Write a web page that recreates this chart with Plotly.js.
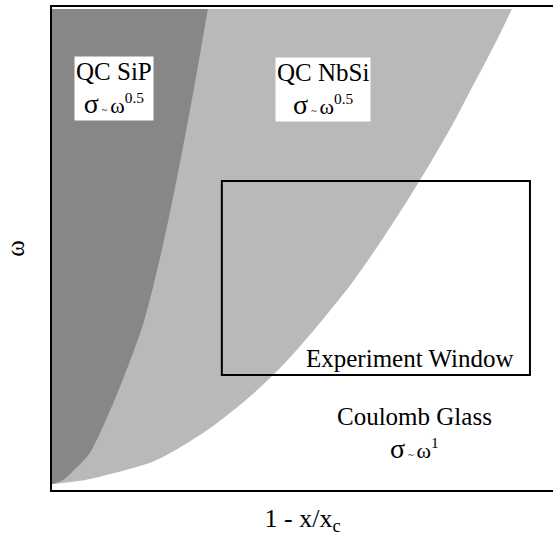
<!DOCTYPE html>
<html>
<head>
<meta charset="utf-8">
<script src="https://cdn.plot.ly/plotly-3.0.1.min.js"></script>
<style>html,body{margin:0;padding:0;background:#fff;}#chart{width:553px;height:536px;}</style>
</head>
<body>
<div id="chart"></div>
<script>
// Boundary of the "QC SiP" (dark) region: 1 - x/xc vs omega
const sipX = [0.2, 2.2, 4.0, 7.4, 10.4, 13.8, 18.2, 22.2, 25.5, 28.5, 31.1];
const sipY = [1.24, 2.07, 3.73, 7.45, 13.66, 21.95, 34.37, 50.93, 67.49, 84.06, 99.59];
// Boundary of the "QC NbSi" (light) region
const nbsiX = [0.2, 6.6, 11.6, 20.0, 26.7, 32.7, 40.1, 46.3, 53.3, 59.7, 65.3, 70.5, 75.4, 80.0, 84.2, 88.4, 91.8];
const nbsiY = [1.24, 2.07, 3.31, 5.80, 9.52, 13.66, 19.88, 26.09, 34.37, 42.65, 50.93, 59.21, 67.49, 75.78, 84.06, 92.34, 99.59];
// Experiment window (x0, x1, y0, y1)
const windowX = [33.9, 95.4];
const windowY = [23.8, 64.0];
// Labels
const labelText = ["QC SiP", "QC NbSi", "Coulomb Glass"];
const labelExp = ["0.5", "0.5", "1"];
const xTitle = "1 - x/x<sub>c</sub>";
const yTitle = "ω";

function region(bx, by, color) {
  return {x: bx, y: by, type: 'scatter', mode: 'lines', fill: 'tozerox',
          fillcolor: color, line: {width: 0, color: color, shape: 'spline', smoothing: 0.8},
          hoverinfo: 'skip', showlegend: false};
}

const font = 'Liberation Serif, Times New Roman, serif';
function sigmaLine(exp) {
  return '<span style="font-size:28px">σ</span><span style="font-size:11px"> ~ </span><span style="font-size:22px">ω<sup>' + exp + '</sup></span>';
}

const data = [region(nbsiX, nbsiY, '#b9b9b9'), region(sipX, sipY, '#878787')];

const layout = {
  width: 553, height: 536,
  margin: {l: 52, r: 0, t: 7, b: 46, pad: 0},
  paper_bgcolor: '#fff', plot_bgcolor: '#fff',
  font: {family: font, color: '#000', size: 25},
  showlegend: false,
  xaxis: {range: [0, 100], showline: true, mirror: true, linewidth: 2, linecolor: '#000',
          showgrid: false, zeroline: false, ticks: '', showticklabels: false, fixedrange: true,
          title: {text: xTitle, font: {family: font, size: 26}, standoff: 21}},
  yaxis: {range: [0, 100], showline: true, mirror: false, linewidth: 2, linecolor: '#000',
          showgrid: false, zeroline: false, ticks: '', showticklabels: false, fixedrange: true,
          title: {text: yTitle, font: {family: font, size: 25}, standoff: 18}},
  shapes: [{type: 'rect', xref: 'x', yref: 'y', x0: windowX[0], x1: windowX[1], y0: windowY[0], y1: windowY[1],
            line: {color: '#000', width: 2}, fillcolor: 'rgba(0,0,0,0)'}],
  annotations: [
    {x: 12.4, y: 83.2, xref: 'x', yref: 'y', showarrow: false, text: labelText[0] + '<br>' + sigmaLine(labelExp[0]),
     bgcolor: '#fff', borderpad: 1, align: 'center', font: {family: font, size: 25}},
    {x: 54.1, y: 83.0, xref: 'x', yref: 'y', showarrow: false, text: labelText[1] + '<br>' + sigmaLine(labelExp[1]),
     bgcolor: '#fff', borderpad: 1, align: 'center', font: {family: font, size: 25}},
    {x: 71.5, y: 27.3, xref: 'x', yref: 'y', showarrow: false, text: 'Experiment Window', font: {family: font, size: 25}},
    {x: 72.3, y: 11.7, xref: 'x', yref: 'y', showarrow: false, text: labelText[2] + '<br>' + sigmaLine(labelExp[2]),
     align: 'center', font: {family: font, size: 25}}
  ]
};

Plotly.newPlot('chart', data, layout, {staticPlot: true, displayModeBar: false});
</script>
</body>
</html>
